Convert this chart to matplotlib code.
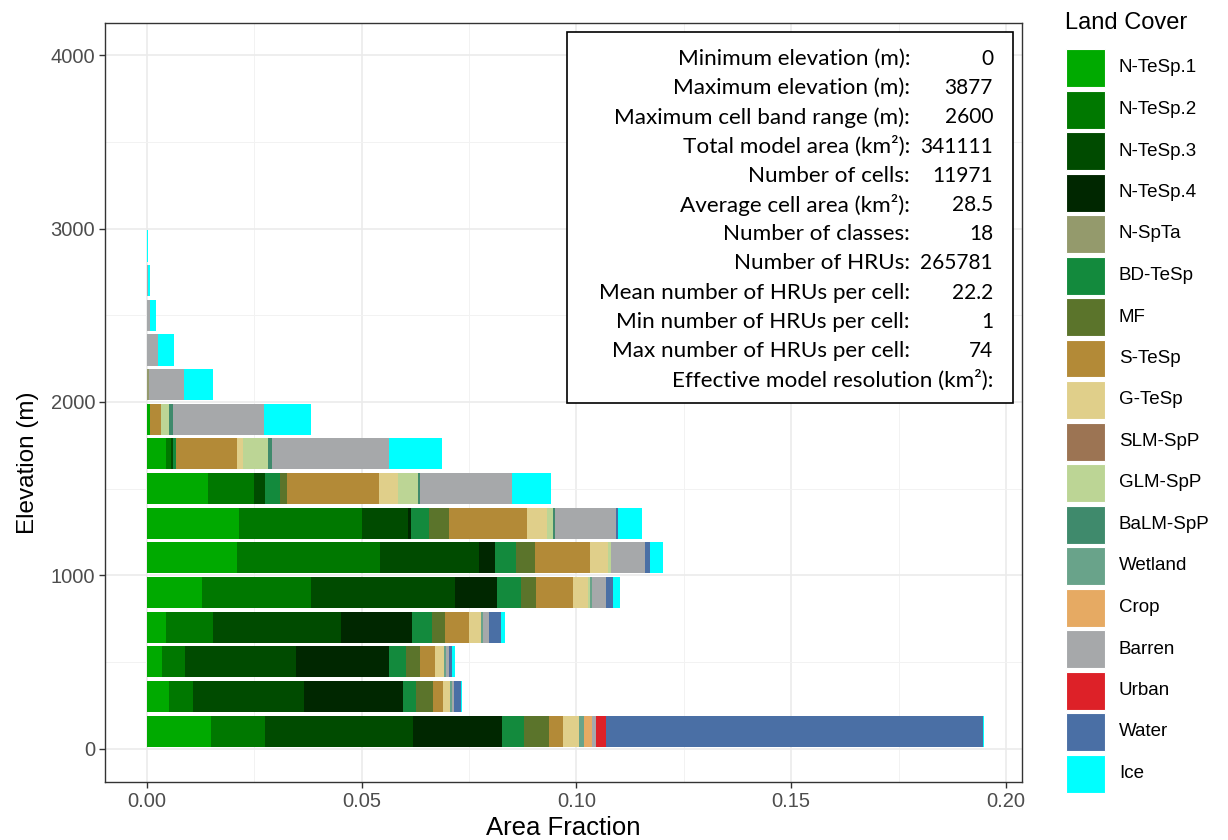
import numpy as np
import matplotlib
matplotlib.use('Agg')
import matplotlib.pyplot as plt
from matplotlib.patches import Rectangle

# 200 m elevation bands, plotted at their mid-points (m)
band_mid = [100, 300, 500, 700, 900, 1100, 1300, 1500, 1700, 1900, 2100, 2300, 2500, 2700, 2900]

# area fraction of each land cover class in each band (same order as band_mid)
n_tesp_1 = [0.01483, 0.00519, 0.00356, 0.00442, 0.01288, 0.02102, 0.02135, 0.01413, 0.00442, 0.00070, 0, 0, 0, 0, 0]
n_tesp_2 = [0.01271, 0.00559, 0.00529, 0.01101, 0.02531, 0.03322, 0.02864, 0.01078, 0.00116, 0, 0, 0, 0, 0, 0]
n_tesp_3 = [0.03432, 0.02584, 0.02584, 0.02966, 0.03353, 0.02312, 0.01085, 0.00263, 0.00054, 0, 0, 0, 0, 0, 0]
n_tesp_4 = [0.02086, 0.02305, 0.02172, 0.01653, 0.00971, 0.00366, 0.00063, 0, 0, 0, 0, 0, 0, 0, 0]
n_spta = [0, 0, 0, 0, 0, 0, 0, 0, 0, 0, 0.00054, 0, 0, 0, 0]
bd_tesp = [0.00505, 0.00289, 0.00382, 0.00480, 0.00559, 0.00496, 0.00426, 0.00342, 0.00063, 0, 0, 0, 0, 0, 0]
mf = [0.00589, 0.00396, 0.00333, 0.00296, 0.00356, 0.00435, 0.00466, 0.00156, 0, 0, 0, 0, 0, 0, 0]
s_tesp = [0.00326, 0.00233, 0.00349, 0.00559, 0.00854, 0.01288, 0.01816, 0.02142, 0.01413, 0.00256, 0, 0, 0, 0, 0]
g_tesp = [0.00366, 0.00170, 0.00217, 0.00279, 0.00349, 0.00419, 0.00466, 0.00442, 0.00154, 0, 0, 0, 0, 0, 0]
slm_spp = [0, 0, 0, 0, 0, 0, 0, 0, 0, 0, 0, 0, 0, 0, 0]
glm_spp = [0, 0, 0, 0, 0.00047, 0.00070, 0.00126, 0.00473, 0.00582, 0.00193, 0, 0, 0, 0, 0]
balm_spp = [0, 0, 0, 0, 0, 0, 0.00054, 0.00040, 0.00079, 0.00093, 0, 0, 0, 0, 0]
wetland = [0.00116, 0.00047, 0.00040, 0.00047, 0.00061, 0, 0, 0, 0, 0, 0, 0, 0, 0, 0]
crop = [0.00193, 0, 0, 0, 0, 0, 0, 0, 0, 0, 0, 0, 0, 0, 0]
barren = [0.00086, 0.00047, 0.00077, 0.00147, 0.00319, 0.00785, 0.01420, 0.02154, 0.02738, 0.02119, 0.00808, 0.00249, 0.00070, 0.00020, 0]
urban = [0.00233, 0, 0, 0, 0, 0, 0, 0, 0, 0, 0, 0, 0, 0, 0]
water = [0.08778, 0.00156, 0.00070, 0.00265, 0.00170, 0.00116, 0.00054, 0, 0, 0, 0, 0, 0, 0, 0]
ice = [0.00023, 0.00030, 0.00063, 0.00093, 0.00156, 0.00310, 0.00559, 0.00903, 0.01227, 0.01087, 0.00682, 0.00373, 0.00140, 0.00050, 0.00015]

classes = ["N-TeSp.1", "N-TeSp.2", "N-TeSp.3", "N-TeSp.4", "N-SpTa", "BD-TeSp", "MF",
           "S-TeSp", "G-TeSp", "SLM-SpP", "GLM-SpP", "BaLM-SpP", "Wetland", "Crop",
           "Barren", "Urban", "Water", "Ice"]
class_colors = ["#00AA00", "#007800", "#004B00", "#002700", "#949A6C", "#138A3D", "#5B742B",
                "#B38A37", "#E0CF8A", "#9C7453", "#BCD595", "#3F8A6C", "#69A38A", "#E6AA63",
                "#A6A8AA", "#DD2128", "#4A6FA5", "#00FFFF"]
class_fracs = [n_tesp_1, n_tesp_2, n_tesp_3, n_tesp_4, n_spta, bd_tesp, mf, s_tesp, g_tesp,
               slm_spp, glm_spp, balm_spp, wetland, crop, barren, urban, water, ice]

# model summary shown in the inset box
stat_labels = ["Minimum elevation (m):", "Maximum elevation (m):", "Maximum cell band range (m):",
               "Total model area (km\u00b2):", "Number of cells:", "Average cell area (km\u00b2):",
               "Number of classes:", "Number of HRUs:", "Mean number of HRUs per cell:",
               "Min number of HRUs per cell:", "Max number of HRUs per cell:"]
stat_values = ["0", "3877", "2600", "341111", "11971", "28.5", "18", "265781", "22.2", "1", "74"]
last_label = "Effective model resolution (km\u00b2):"

W, H = 1228, 840
fig = plt.figure(figsize=(W / 100, H / 100), dpi=100)
px_l, px_r, px_t, px_b = 105, 1022, 22.5, 782
ax = fig.add_axes([px_l / W, 1 - px_b / H, (px_r - px_l) / W, (px_b - px_t) / H])

left = np.zeros(len(band_mid))
for vals, col in zip(class_fracs, class_colors):
    vals = np.array(vals)
    ax.barh(band_mid, vals, height=180, left=left, color=col, linewidth=0, zorder=2)
    left += vals

ax.set_xlim(-0.00978, 0.20373)
ax.set_ylim(-193, 4189)
ax.set_xticks([0, 0.05, 0.10, 0.15, 0.20])
ax.set_xticklabels(["0.00", "0.05", "0.10", "0.15", "0.20"])
ax.set_xticks([0.025, 0.075, 0.125, 0.175], minor=True)
ax.set_yticks([0, 1000, 2000, 3000, 4000])
ax.set_yticks([500, 1500, 2500, 3500], minor=True)

ax.grid(which='major', color='#EBEBEB', linewidth=1.2, zorder=0)
ax.grid(which='minor', color='#F2F2F2', linewidth=0.7, zorder=0)
ax.set_axisbelow(True)
for sp in ax.spines.values():
    sp.set_color('#333333')
    sp.set_linewidth(1.0)
ax.tick_params(which='major', length=4, width=1.0, color='#333333', labelcolor='#4D4D4D',
               labelsize=14.5, pad=3)
ax.tick_params(which='minor', length=0)
for lab in ax.get_xticklabels() + ax.get_yticklabels():
    lab.set_family('Liberation Sans')

ax.set_xlabel("Area Fraction", fontsize=18.5, family='Liberation Sans', color='black')
ax.set_ylabel("Elevation (m)", fontsize=17.5, family='Liberation Sans', color='black')
ax.xaxis.set_label_coords(0.5, -0.061)
ax.yaxis.set_label_coords(-0.084, 0.42)
ax.xaxis.label.set_va('center')
ax.yaxis.label.set_va('center')

# summary box
box_x0, box_x1 = (567.3 - px_l) / (px_r - px_l), (1013.3 - px_l) / (px_r - px_l)
box_y0, box_y1 = (px_b - 402.7) / (px_b - px_t), (px_b - 32.3) / (px_b - px_t)
ax.add_patch(Rectangle((box_x0, box_y0), box_x1 - box_x0, box_y1 - box_y0, transform=ax.transAxes,
                       facecolor='white', edgecolor='black', linewidth=1.2, zorder=5))
row_y0 = (px_b - 59) / (px_b - px_t)
row_dy = 29.2 / (px_b - px_t)
lab_x = (910 - px_l) / (px_r - px_l)
val_x = (993 - px_l) / (px_r - px_l)
box_font = dict(transform=ax.transAxes, ha='right', va='center', family='Lato', zorder=6)
for i, (lab, val) in enumerate(zip(stat_labels, stat_values)):
    y = row_y0 - i * row_dy
    ax.text(lab_x, y, lab, fontsize=16.2, **box_font)
    ax.text(val_x, y, val, fontsize=15.0, **box_font)
ax.text(val_x, row_y0 - len(stat_labels) * row_dy, last_label, fontsize=16.2, **box_font)

# legend drawn by hand so the key boxes keep their size and pitch
fig.text(1065 / W, 1 - 22.6 / H, "Land Cover", ha='left', va='center', fontsize=17,
         family='Liberation Sans')
key_w, key_h, pitch = 39, 38, 41.5
for i, (name, col) in enumerate(zip(classes, class_colors)):
    yc = 68 + i * pitch
    fig.patches.append(Rectangle((1066 / W, 1 - (yc + key_h / 2) / H), key_w / W, key_h / H,
                                 transform=fig.transFigure, facecolor=col, edgecolor='white',
                                 linewidth=0.8))
    fig.text(1119 / W, 1 - yc / H, name, ha='left', va='center', fontsize=13.5,
             family='Liberation Sans')

fig.savefig("out.png", dpi=100)
